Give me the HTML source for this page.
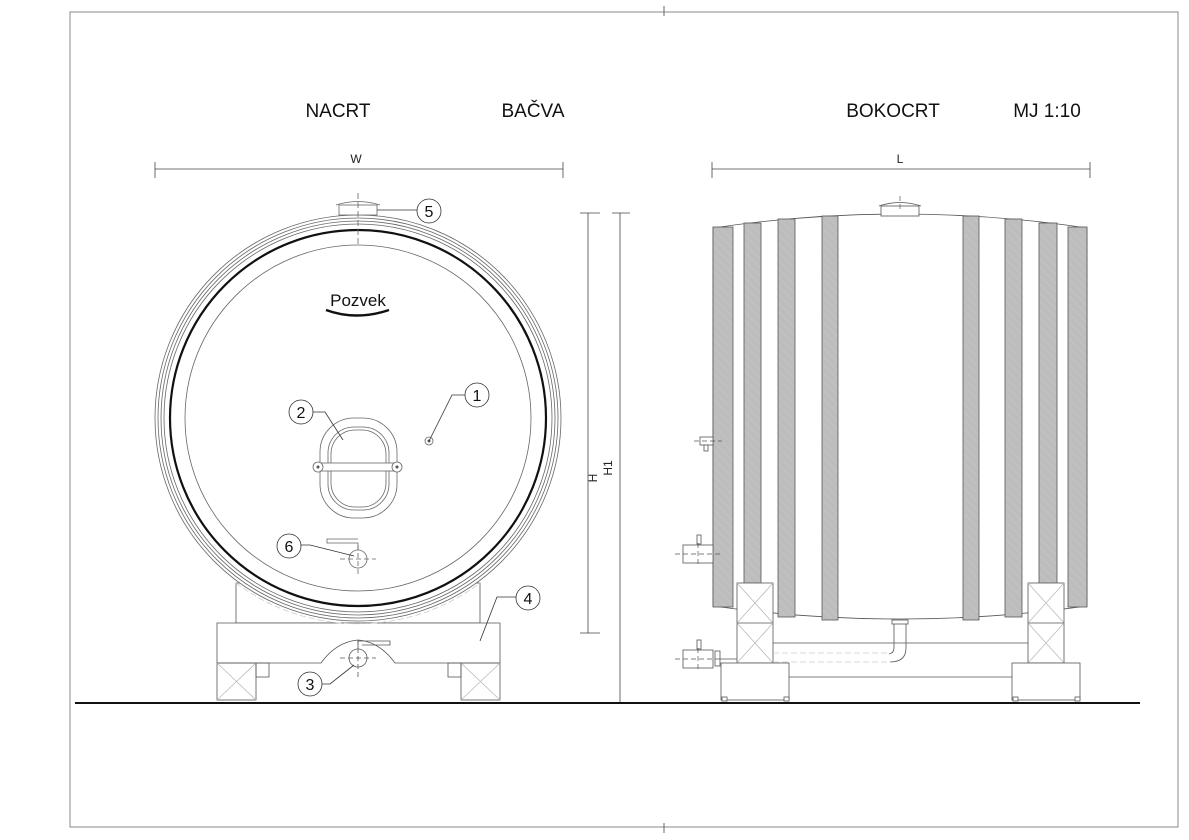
<!DOCTYPE html>
<html><head><meta charset="utf-8"><style>
html,body{margin:0;padding:0;background:#fff;}
svg{display:block;font-family:"Liberation Sans",sans-serif;}
</style></head><body>
<svg width="1189" height="840" viewBox="0 0 1189 840" xmlns="http://www.w3.org/2000/svg">
<defs>
<pattern id="h" width="6" height="6" patternUnits="userSpaceOnUse" patternTransform="rotate(-45)">
<rect width="6" height="6" fill="#bdbdbd"/><line x1="0" y1="0" x2="0" y2="6" stroke="#c8c8c8" stroke-width="1"/>
</pattern>
</defs>
<rect x="70" y="12" width="1108" height="815" fill="none" stroke="#888" stroke-width="1"/>
<line x1="664" y1="6" x2="664" y2="16" stroke="#666"/>
<line x1="664" y1="823" x2="664" y2="833" stroke="#666"/>
<g font-size="19" fill="#111">
<text x="338" y="117" text-anchor="middle">NACRT</text>
<text x="533" y="117" text-anchor="middle">BAČVA</text>
<text x="893" y="117" text-anchor="middle">BOKOCRT</text>
<text x="1047" y="117" text-anchor="middle">MJ 1:10</text>
</g>
<!-- dims -->
<g stroke="#444" stroke-width="0.8" fill="none">
<line x1="155" y1="169" x2="563" y2="169"/>
<line x1="155" y1="162" x2="155" y2="178"/><line x1="563" y1="162" x2="563" y2="178"/>
<line x1="712" y1="169" x2="1090" y2="169"/>
<line x1="712" y1="162" x2="712" y2="178"/><line x1="1090" y1="162" x2="1090" y2="178"/>
<line x1="588" y1="213" x2="588" y2="633"/>
<line x1="580" y1="213" x2="600" y2="213"/><line x1="580" y1="633" x2="600" y2="633"/>
<line x1="620" y1="213" x2="620" y2="703"/>
<line x1="612" y1="213" x2="630" y2="213"/>
</g>
<g font-size="12" fill="#222">
<text x="356" y="163" text-anchor="middle">W</text>
<text x="900" y="163" text-anchor="middle">L</text>
<text x="0" y="0" transform="translate(597,478) rotate(-90)" text-anchor="middle">H</text>
<text x="0" y="0" transform="translate(612,468) rotate(-90)" text-anchor="middle">H1</text>
</g>
<line x1="75" y1="703" x2="1140" y2="703" stroke="#111" stroke-width="2"/>

<!-- LEFT VIEW -->
<g fill="none" stroke="#555" stroke-width="0.8">
<rect x="236" y="583" width="244" height="40" fill="#fff"/>
<path d="M217 623 H500 V663 H395 Q380 642 358 640 Q336 642 321 663 H217 Z" fill="#fff"/>
<rect x="217" y="663" width="39" height="37"/><path d="M217 663 L256 700 M256 663 L217 700" stroke="#bbb"/>
<rect x="461" y="663" width="39" height="37"/><path d="M461 663 L500 700 M500 663 L461 700" stroke="#bbb"/>
<rect x="256" y="663" width="13" height="14"/><rect x="448" y="663" width="13" height="14"/>
<circle cx="358" cy="658" r="9" fill="#fff"/>
<path d="M358 649 V641 H390 V645 H362" />
<line x1="340" y1="658" x2="376" y2="658" stroke-dasharray="5 3"/>
<line x1="358" y1="640" x2="358" y2="680" stroke-dasharray="5 3"/>
</g>
<g fill="none" stroke="#666" stroke-width="0.8">
<path d="M236 583 A203 203 0 0 0 480 583" stroke="#ccc" stroke-dasharray="6 3"/>
<circle cx="358" cy="418" r="203" fill="#fff"/>
<circle cx="358" cy="418" r="200"/>
<circle cx="358" cy="418" r="197"/>
<circle cx="358" cy="418" r="194"/>
<circle cx="358" cy="418" r="188" stroke="#111" stroke-width="2.2"/>
<circle cx="358" cy="418" r="173"/>
<rect x="339" y="205" width="38" height="10" fill="#fff"/>
<path d="M336 205 Q358 198 380 205"/>
<line x1="358" y1="193" x2="358" y2="245" stroke-dasharray="6 3"/>
<rect x="320" y="418" width="77" height="100" rx="34" fill="#fff"/>
<rect x="328" y="427" width="61" height="83" rx="26"/>
<rect x="331" y="430" width="55" height="77" rx="24"/>
<rect x="318" y="463" width="79" height="8" fill="#fff"/>
<circle cx="318" cy="467" r="5" fill="#fff"/><circle cx="397" cy="467" r="5" fill="#fff"/>
<circle cx="429" cy="441" r="4"/>
<circle cx="358" cy="559" r="9" fill="#fff"/>
<path d="M358 550 V543 H327 V539 H358"/>
<line x1="340" y1="559" x2="376" y2="559" stroke-dasharray="5 3"/>
<line x1="358" y1="545" x2="358" y2="575" stroke-dasharray="5 3"/>
</g>
<circle cx="318" cy="467" r="1.5" fill="#555"/><circle cx="397" cy="467" r="1.5" fill="#555"/>
<circle cx="429" cy="441" r="1.5" fill="#555"/>
<text x="358" y="306" font-size="17" text-anchor="middle" fill="#111">Pozvek</text>
<path d="M326 310 Q356 321 389 310" fill="none" stroke="#111" stroke-width="2.4"/>
<!-- callouts -->
<g fill="none" stroke="#333" stroke-width="0.8">
<path d="M377 210 H417"/><circle cx="429" cy="211" r="12" fill="#fff"/>
<path d="M429 441 L452 395 H465"/><circle cx="477" cy="395" r="12" fill="#fff"/>
<path d="M343 440 L325 412 H313"/><circle cx="301" cy="412" r="12" fill="#fff"/>
<path d="M354 556 L310 545 H301"/><circle cx="289" cy="546" r="12" fill="#fff"/>
<path d="M480 641 L497 597 H516"/><circle cx="528" cy="598" r="12" fill="#fff"/>
<path d="M354 665 L330 684 H322"/><circle cx="310" cy="684" r="12" fill="#fff"/>
</g>
<g font-size="16" fill="#111" text-anchor="middle">
<text x="429" y="217">5</text><text x="477" y="401">1</text><text x="301" y="418">2</text>
<text x="289" y="552">6</text><text x="528" y="604">4</text><text x="310" y="690">3</text>
</g>

<!-- RIGHT VIEW -->
<g stroke="#555" stroke-width="0.8" fill="none">
<path d="M713 228 Q900 200 1087 228 V606 Q900 632 713 606 Z" fill="#fff"/>
<rect x="881" y="206" width="38" height="10" fill="#fff"/>
<path d="M879 206 Q900 199 921 206"/>
</g>
<g fill="url(#h)" stroke="#555" stroke-width="0.8">
<rect x="713" y="227" width="20" height="380"/>
<rect x="744" y="223" width="17" height="391"/>
<rect x="778" y="219" width="17" height="398"/>
<rect x="822" y="216" width="16" height="404"/>
<rect x="963" y="216" width="16" height="404"/>
<rect x="1005" y="219" width="17" height="398"/>
<rect x="1039" y="223" width="18" height="391"/>
<rect x="1068" y="227" width="19" height="380"/>
</g>
<g stroke="#555" stroke-width="0.8" fill="#fff">
<line x1="773" y1="643" x2="1028" y2="643"/>
<line x1="789" y1="677" x2="1012" y2="677"/>
<rect x="737" y="583" width="36" height="80"/>
<rect x="1028" y="583" width="36" height="80"/>
<path d="M737 583 L773 623 M773 583 L737 623 M737 623 L773 663 M773 623 L737 663 M1028 583 L1064 623 M1064 583 L1028 623 M1028 623 L1064 663 M1064 623 L1028 663" stroke="#bbb"/>
<line x1="737" y1="623" x2="773" y2="623"/><line x1="1028" y1="623" x2="1064" y2="623"/>
<rect x="721" y="663" width="68" height="37"/>
<rect x="1012" y="663" width="68" height="37"/>
<rect x="722" y="697" width="5" height="4"/><rect x="784" y="697" width="5" height="4"/>
<rect x="1013" y="697" width="5" height="4"/><rect x="1075" y="697" width="5" height="4"/>
<rect x="892" y="620" width="16" height="4"/>
<path d="M894 624 V648 Q894 653 889 654 M906 624 V648 Q906 662 890 662" fill="none"/>
<path d="M773 653 H888 M773 662 H888" fill="none" stroke="#ccc" stroke-dasharray="6 3"/>
<rect x="683" y="650" width="30" height="18"/>
<rect x="715" y="651" width="5" height="15"/><line x1="720" y1="659" x2="737" y2="659"/>
<rect x="697" y="640" width="4" height="9"/>
<rect x="683" y="545" width="30" height="18"/>
<rect x="697" y="535" width="4" height="9"/>
<rect x="700" y="437" width="13" height="8"/><rect x="704" y="445" width="4" height="6"/>
</g>
<g stroke="#555" stroke-width="0.7" stroke-dasharray="5 3" fill="none">
<line x1="675" y1="659" x2="722" y2="659"/><line x1="698" y1="648" x2="698" y2="672"/>
<line x1="675" y1="554" x2="722" y2="554"/><line x1="698" y1="543" x2="698" y2="567"/>
<line x1="694" y1="441" x2="722" y2="441"/>
<line x1="900" y1="196" x2="900" y2="212"/>
</g>
</svg>
</body></html>
